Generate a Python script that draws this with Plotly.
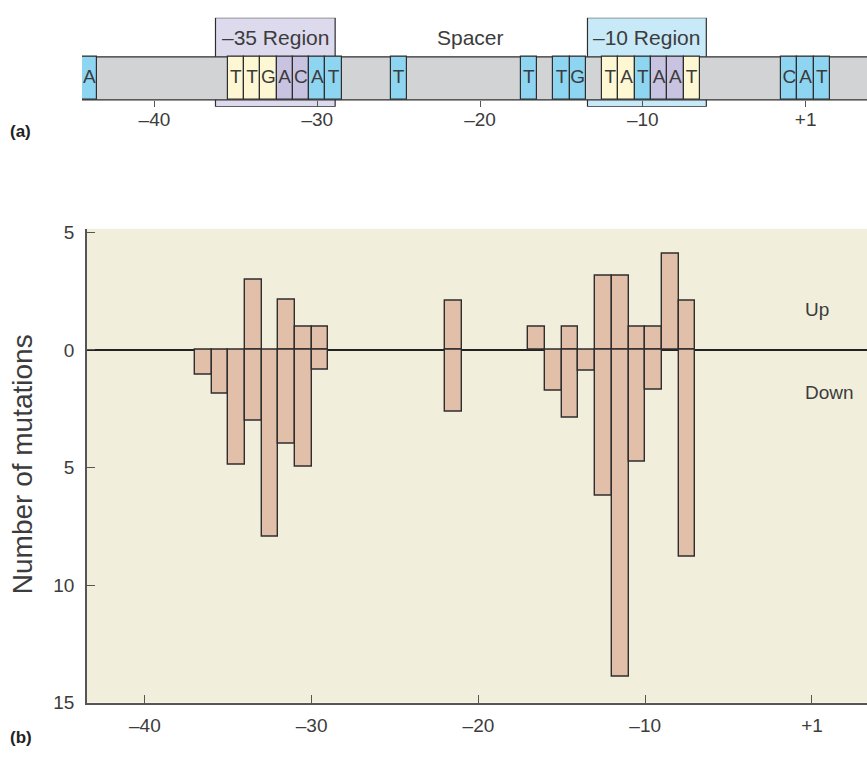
import plotly.graph_objects as go

# ---------------- data ----------------
# (b) mutation counts per promoter position (up = raises activity, down = lowers it)
bar_pos = [-37, -36, -35, -34, -33, -32, -31, -30, -22,
           -17, -16, -15, -14, -13, -12, -11, -10, -9, -8]
up_mut = [0, 0, 0, 3.0, 0, 2.15, 1.0, 1.0, 2.1,
          1.0, 0, 1.0, 0, 3.15, 3.15, 1.0, 1.0, 4.1, 2.1]
down_mut = [1.05, 1.85, 4.9, 3.0, 7.95, 4.0, 4.95, 0.85, 2.65,
            0, 1.75, 2.9, 0.9, 6.2, 13.9, 4.75, 1.7, 0, 8.8]

# (a) conserved bases shown on the promoter strip
seq_pos = [-44, -35, -34, -33, -32, -31, -30, -29, -25, -17, -15, -14,
           -12, -11, -10, -9, -8, -7, -1, 1, 2]
seq_base = ["A", "T", "T", "G", "A", "C", "A", "T", "T", "T", "T", "G",
            "T", "A", "T", "A", "A", "T", "C", "A", "T"]
seq_kind = ["b", "y", "y", "y", "l", "l", "b", "b", "b", "b", "b", "b",
            "y", "y", "b", "l", "l", "y", "b", "b", "b"]

region_names = ["–35 Region", "–10 Region"]
region_start = [-36.25, -13.4]
region_end = [-28.9, -6.1]
spacer_label = "Spacer"
spacer_at = -20.6

tick_pos = [-40, -30, -20, -10, 1]
tick_text = ["–40", "–30", "–20", "–10", "+1"]


def coord(p):
    # promoter numbering has no position 0: +1 follows -1 directly
    return p if p < 0 else p - 1


# ---------------- styling ----------------
W, H = 867, 781
FONT = "Liberation Sans, Arial, sans-serif"
TXT = "#3c3c3c"
EDGE = "#2e2e2e"
kind_color = {"y": "#fdf8d3", "l": "#c8c3e0", "b": "#8ed5f2"}
region_fill = ["#dddaee", "#c8e9f8"]


def py(px):
    return 1 - px / H


strip_lo, strip_hi = 0.077, 0.56   # strip band inside the (a) panel's unit y range

fig = go.Figure()

# (b) bars: every position spans [pos, pos+1]
up_y = [v if v else None for v in up_mut]
down_y = [-v if v else None for v in down_mut]
for ys in (up_y, down_y):
    fig.add_trace(go.Bar(
        x=[coord(p) for p in bar_pos], y=ys, width=1, offset=0,
        marker=dict(color="#e2bfa9", line=dict(color=EDGE, width=1.4)),
        xaxis="x", yaxis="y", showlegend=False, hoverinfo="skip"))

# (a) base boxes on the strip
fig.add_trace(go.Bar(
    x=[coord(p) for p in seq_pos], y=[strip_hi - strip_lo] * len(seq_pos),
    base=strip_lo, width=1,
    marker=dict(color=[kind_color[k] for k in seq_kind],
                line=dict(color=EDGE, width=1.2)),
    xaxis="x2", yaxis="y2", showlegend=False, hoverinfo="skip"))
fig.add_trace(go.Scatter(
    x=[coord(p) for p in seq_pos], y=[(strip_lo + strip_hi) / 2] * len(seq_pos),
    mode="text", text=seq_base, textposition="middle center",
    textfont=dict(family=FONT, size=19, color=TXT),
    xaxis="x2", yaxis="y2", showlegend=False, hoverinfo="skip"))

shapes = []
# beige panel behind the bars
shapes.append(dict(type="rect", xref="x domain", yref="y domain", x0=0, x1=1, y0=0, y1=1,
                   fillcolor="#f1eedc", line=dict(width=0), layer="below"))
# region boxes behind the strip
for s, e, c in zip(region_start, region_end, region_fill):
    shapes.append(dict(type="rect", xref="x2", yref="y2", x0=s, x1=e, y0=0, y1=1,
                       fillcolor=c, line=dict(color=EDGE, width=1.2), layer="below"))
# grey promoter strip
shapes.append(dict(type="rect", xref="x2", yref="y2", x0=coord(seq_pos[0]) - 0.5, x1=6,
                   y0=strip_lo, y1=strip_hi, fillcolor="#d2d3d5",
                   line=dict(color=EDGE, width=1.2), layer="below"))

LBL = dict(family=FONT, size=21, color=TXT)
SIDE = dict(family=FONT, size=19, color=TXT)
annotations = []
for name, s, e in zip(region_names, region_start, region_end):
    annotations.append(dict(x=(s + e) / 2, y=0.78, xref="x2", yref="y2", text=name,
                            showarrow=False, font=LBL))
annotations.append(dict(x=spacer_at, y=0.78, xref="x2", yref="y2", text=spacer_label,
                        showarrow=False, font=LBL))
annotations.append(dict(x=803 / W, y=1.7, xref="paper", yref="y", text="Up",
                        xanchor="left", yanchor="middle", showarrow=False, font=SIDE))
annotations.append(dict(x=803 / W, y=-1.8, xref="paper", yref="y", text="Down",
                        xanchor="left", yanchor="middle", showarrow=False, font=SIDE))
annotations.append(dict(x=22 / W, y=py(468), xref="paper", yref="paper",
                        text="Number of mutations", textangle=-90, showarrow=False,
                        xanchor="center", yanchor="middle",
                        font=dict(family=FONT, size=28, color=TXT)))
annotations.append(dict(x=8 / W, y=py(127), xref="paper", yref="paper", text="<b>(a)</b>",
                        xanchor="left", yanchor="middle", showarrow=False,
                        font=dict(family=FONT, size=17, color="#222")))
annotations.append(dict(x=8 / W, y=py(748), xref="paper", yref="paper", text="<b>(b)</b>",
                        xanchor="left", yanchor="middle", showarrow=False,
                        font=dict(family=FONT, size=17, color="#222")))

tick_font = dict(family=FONT, size=19, color=TXT)
fig.update_layout(
    width=W, height=H, margin=dict(l=0, r=0, t=0, b=0),
    paper_bgcolor="white", plot_bgcolor="rgba(0,0,0,0)",
    barmode="overlay", bargap=0,
    shapes=shapes, annotations=annotations,
    xaxis=dict(domain=[87 / W, 1], range=[-43.47, 3.30], anchor="y",
               tickvals=[coord(p) for p in tick_pos], ticktext=tick_text,
               ticks="inside", ticklen=8, tickcolor="#555", tickwidth=1.2,
               showline=True, linecolor="#555", linewidth=1.5,
               showgrid=False, zeroline=False, tickfont=tick_font,
               ticklabelstandoff=5),
    yaxis=dict(domain=[py(712), py(227)], range=[-15, 5.15], anchor="x",
               tickvals=[5, 0, -5, -10, -15], ticktext=["5", "0", "5", "10", "15"],
               ticks="inside", ticklen=8, tickcolor="#555", tickwidth=1.2,
               showline=True, linecolor="#555", linewidth=1.5,
               showgrid=False, zeroline=True, zerolinecolor="#222", zerolinewidth=1.5,
               tickfont=tick_font, ticklabelstandoff=7),
    xaxis2=dict(domain=[82 / W, 1], range=[-44.45, 3.77], anchor="free",
                position=py(95), tickvals=[coord(p) for p in tick_pos], ticktext=tick_text,
                ticks="outside", ticklen=6, tickcolor="#555", tickwidth=1.2,
                showline=False, showgrid=False, zeroline=False, tickfont=tick_font,
                ticklabelstandoff=-4),
    yaxis2=dict(domain=[py(102), py(11)], range=[0, 1], anchor="x2", visible=False),
)

fig.write_html("out.html")
